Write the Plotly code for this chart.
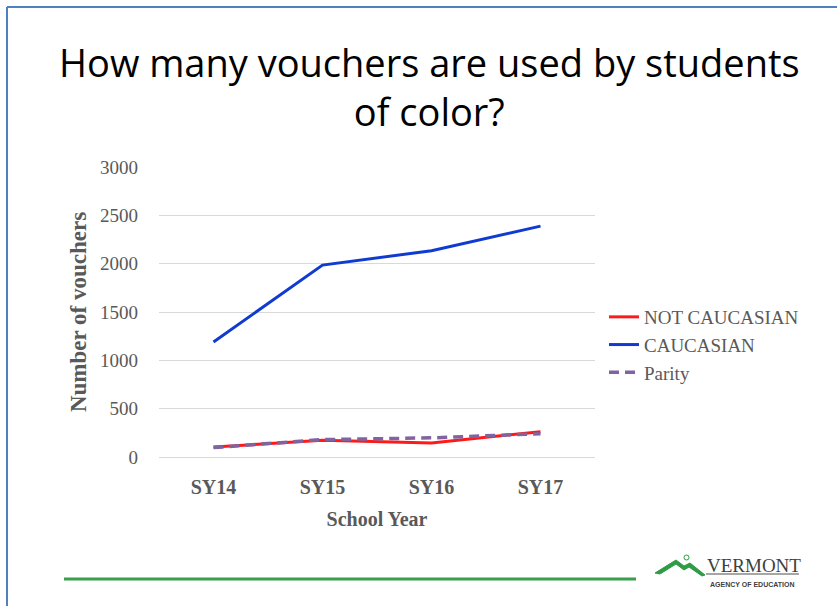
import plotly.graph_objects as go

# ---- data ----
school_years = ["SY14", "SY15", "SY16", "SY17"]
not_caucasian = [103, 172, 145, 262]
caucasian = [1190, 1985, 2134, 2388]
parity = [97, 180, 198, 241]
y_ticks = [0, 500, 1000, 1500, 2000, 2500, 3000]

# ---- layout helpers (pixel -> paper) ----
PL, PR, PT, PB = 159, 595, 167, 457
W, H = PR - PL, PB - PT
def X(px):
    return (px - PL) / W
def Y(py):
    return (PB - py) / H

SERIF = "Liberation Serif"
GRAY = "#595959"

fig = go.Figure()
fig.add_trace(go.Scatter(x=school_years, y=not_caucasian, name="NOT CAUCASIAN",
                         mode="lines", line=dict(color="#FF1A1A", width=3)))
fig.add_trace(go.Scatter(x=school_years, y=caucasian, name="CAUCASIAN",
                         mode="lines", line=dict(color="#0F3BD1", width=3)))
fig.add_trace(go.Scatter(x=school_years, y=parity, name="Parity",
                         mode="lines", line=dict(color="#8064A2", width=3.5, dash="10px,6px")))

shapes = [
    # page border (blue)
    dict(type="line", xref="paper", yref="paper", x0=X(7), x1=X(837), y0=Y(7), y1=Y(7),
         line=dict(color="#4F81BD", width=2)),
    dict(type="line", xref="paper", yref="paper", x0=X(7), x1=X(7), y0=Y(7), y1=Y(606),
         line=dict(color="#4F81BD", width=2)),
    # green footer line
    dict(type="line", xref="paper", yref="paper", x0=X(64), x1=X(636), y0=Y(579), y1=Y(579),
         line=dict(color="#3A9E4C", width=3)),
    # logo mountain
    dict(type="path", xref="paper", yref="paper",
         path=f"M {X(655)},{Y(573)} L {X(676)},{Y(560)} L {X(684)},{Y(566)} L {X(690)},{Y(563)} L {X(705)},{Y(575)} L {X(702)},{Y(576)} L {X(689)},{Y(567)} L {X(684)},{Y(570)} L {X(676)},{Y(564)} L {X(660)},{Y(574)} Z",
         fillcolor="#2E9B45", line=dict(color="#2E9B45", width=1)),
    dict(type="circle", xref="paper", yref="paper", x0=X(684), x1=X(689), y0=Y(555), y1=Y(560),
         line=dict(color="#2E9B45", width=1)),
    # logo gray bar
    dict(type="line", xref="paper", yref="paper", x0=X(706), x1=X(799), y0=Y(574), y1=Y(574),
         line=dict(color="#A6A6A6", width=2)),
]

annotations = [
    dict(text="How many vouchers are used by students<br>of color?", xref="paper", yref="paper",
         x=X(429), y=Y(34), xanchor="center", yanchor="top", showarrow=False,
         font=dict(family="Open Sans", size=38, color="#000000")),
    dict(text="VERMONT", xref="paper", yref="paper", x=X(705), y=Y(565), xanchor="left",
         yanchor="middle", showarrow=False,
         font=dict(family=SERIF, size=19, color="#404040")),
    dict(text="<b>AGENCY OF EDUCATION</b>", xref="paper", yref="paper", x=X(752), y=Y(584),
         xanchor="center", yanchor="middle", showarrow=False,
         font=dict(family="Liberation Sans Narrow, Liberation Sans", size=7, color="#404040")),
]

fig.update_layout(
    width=837, height=606,
    margin=dict(l=PL, r=837 - PR, t=PT, b=606 - PB, autoexpand=False),
    paper_bgcolor="white", plot_bgcolor="white",
    showlegend=True,
    legend=dict(x=X(604), y=Y(298), xanchor="left", yanchor="top",
                font=dict(family=SERIF, size=19, color=GRAY),
                bgcolor="rgba(0,0,0,0)", tracegroupgap=0),
    xaxis=dict(type="category", range=[-0.5, 3.5], showgrid=False, showline=False,
               zeroline=False, ticks="", ticklabelstandoff=16,
               tickfont=dict(family=SERIF, size=20, color=GRAY, weight="bold"),
               title=dict(text="<b>School Year</b>", standoff=14,
                          font=dict(family=SERIF, size=20, color=GRAY))),
    yaxis=dict(range=[0, 3000], tickvals=y_ticks, showgrid=True, gridcolor="#D9D9D9",
               gridwidth=1, zeroline=True, zerolinecolor="#D9D9D9", zerolinewidth=1,
               showline=False, ticks="", ticklabelstandoff=20,
               tickfont=dict(family=SERIF, size=19, color=GRAY),
               title=dict(text="<b>Number of vouchers</b>", standoff=6,
                          font=dict(family=SERIF, size=23, color=GRAY))),
    shapes=shapes,
    annotations=annotations,
)

fig.write_html("out.html", config={"displayModeBar": False},
               post_script="document.body.style.margin='0';document.body.style.padding='0';")
